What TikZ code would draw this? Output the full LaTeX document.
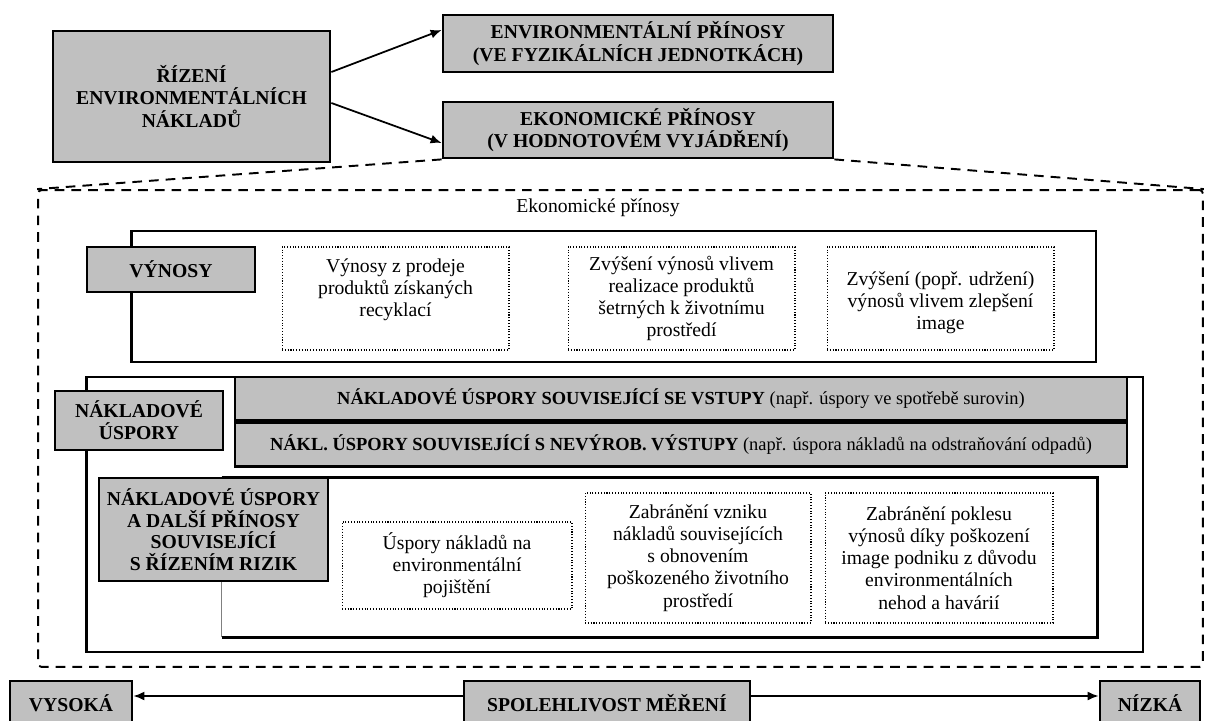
\documentclass[tikz,border=0pt]{standalone}
\usepackage{fontspec}
\setmainfont{Liberation Serif}
\usepackage{tikz}
\usetikzlibrary{arrows.meta,positioning}
\definecolor{boxgray}{RGB}{192,192,192}

\begin{document}
\begin{tikzpicture}[x=0.02cm,y=-0.02cm,
      font=\fontsize{11.2}{12.6}\selectfont,
      gb/.style={draw,line width=1.6pt,fill=boxgray,align=center,inner sep=0pt,
                 font=\fontsize{11.2}{12.6}\selectfont\bfseries},
      bd/.style={gb,font=\fontsize{10.5}{12}\selectfont\bfseries},
      fr/.style={draw,line width=1.6pt,inner sep=0pt},
      dt/.style={draw,densely dotted,line width=0.6pt,align=center,inner sep=0pt,
                 minimum width=4.54cm,minimum height=2.06cm},
      a/.style={-{Latex[length=2.2mm,width=1.8mm]},line width=1pt},
      ds/.style={dash pattern=on 5.5pt off 4pt,line width=1.1pt}]
  \useasboundingbox (0,0) rectangle (1209,720);

  % top part
  \node[gb,minimum width=5.54cm,minimum height=2.62cm] (ctrl) at (191.5,96.5)
    {ŘÍZENÍ\\ENVIRONMENTÁLNÍCH\\NÁKLADŮ};
  \node[gb,minimum width=7.8cm,minimum height=1.14cm] (env) at (638,43.5)
    {ENVIRONMENTÁLNÍ PŘÍNOSY\\(VE FYZIKÁLNÍCH JEDNOTKÁCH)};
  \node[gb,minimum width=7.8cm,minimum height=1.12cm] (eco) at (638,130)
    {EKONOMICKÉ PŘÍNOSY\\(V HODNOTOVÉM VYJÁDŘENÍ)};
  \draw[a] ([yshift=0.49cm]ctrl.east) -- ([yshift=0.27cm]env.west);
  \draw[a] ([yshift=-0.13cm]ctrl.east) -- ([yshift=-0.26cm]eco.west);

  % economic benefits area
  \node[draw,ds,rounded corners=2pt,inner sep=0pt,minimum width=23.3cm,minimum height=9.54cm]
    (area) at (620.5,428.5) {};
  \draw[ds] (eco.south west) -- (area.north west);
  \draw[ds] (eco.south east) -- (area.north east);
  \node (areatit) at (598,208) {Ekonomické přínosy};

  % revenues
  \node[fr,minimum width=19.3cm,minimum height=2.62cm] (vfr) at (613.5,296.5) {};
  \node[gb,minimum width=3.36cm,minimum height=0.9cm] (vyn) at (171,269.5) {VÝNOSY};
  \node[dt] (v1) at (395.5,298.5) {Výnosy z prodeje\\produktů získaných\\recyklací\\\mbox{}};
  \node[dt] (v2) at (681.5,298.5) {Zvýšení výnosů vlivem\\realizace produktů\\šetrných k životnímu\\prostředí};
  \node[dt] (v3) at (940.5,298.5) {\mbox{}\\Zvýšení (popř. udržení)\\výnosů vlivem zlepšení\\image};

  % cost savings
  \node[fr,minimum width=21.14cm,minimum height=5.5cm] (nfr) at (614.5,514.5) {};
  \node[bd,minimum width=17.84cm,minimum height=0.86cm] (vstup) at (681,398.5)
    {NÁKLADOVÉ ÚSPORY SOUVISEJÍCÍ SE VSTUPY \textmd{(např. úspory ve spotřebě surovin)}};
  \node[bd,minimum width=17.84cm,minimum height=0.88cm,below=0pt of vstup] (vystup)
    {NÁKL. ÚSPORY SOUVISEJÍCÍ S NEVÝROB. VÝSTUPY \textmd{(např. úspora nákladů na odstraňování odpadů)}};
  \node[gb,minimum width=3.36cm,minimum height=1.18cm] (nak) at (139,420.5) {NÁKLADOVÉ\\ÚSPORY};

  % risk management
  \node[inner sep=0pt,minimum width=17.5cm,minimum height=3.18cm] (rfr) at (659.5,557.5) {};
  \draw[line width=1.6pt] (rfr.north west) -- (rfr.north east) -- (rfr.south east) -- (rfr.south west);
  \draw[gray,line width=0.6pt] (rfr.south west) -- (rfr.north west);
  \node[gb,minimum width=4.58cm,minimum height=2.06cm,font=\fontsize{11.2}{12.2}\selectfont\bfseries]
    (risk) at (213.5,529.5) {NÁKLADOVÉ ÚSPORY\\A DALŠÍ PŘÍNOSY\\SOUVISEJÍCÍ\\S ŘÍZENÍM RIZIK};
  \node[dt,minimum width=4.6cm,minimum height=1.74cm] (r1) at (457,565.5)
    {Úspory nákladů na\\environmentální\\pojištění};
  \node[dt,minimum width=4.52cm,minimum height=2.6cm] (r2) at (698,558)
    {Zabránění vzniku\\nákladů souvisejících\\s obnovením\\poškozeného životního\\prostředí};
  \node[dt,minimum width=4.56cm,minimum height=2.6cm] (r3) at (939,558)
    {Zabránění poklesu\\výnosů díky poškození\\image podniku z důvodu\\environmentálních\\nehod a havárií};

  % reliability scale
  \node[gb,minimum width=2.44cm,minimum height=0.88cm] (hi) at (71,703) {VYSOKÁ};
  \node[gb,minimum width=5.72cm,minimum height=0.88cm] (rel) at (607,703) {SPOLEHLIVOST MĚŘENÍ};
  \node[gb,minimum width=2cm,minimum height=0.88cm] (lo) at (1150,703) {NÍZKÁ};
  \draw[a] ([yshift=0.14cm]rel.west) -- ([yshift=0.14cm]hi.east);
  \draw[a] ([yshift=0.14cm]rel.east) -- ([yshift=0.14cm]lo.west);
\end{tikzpicture}
\end{document}
